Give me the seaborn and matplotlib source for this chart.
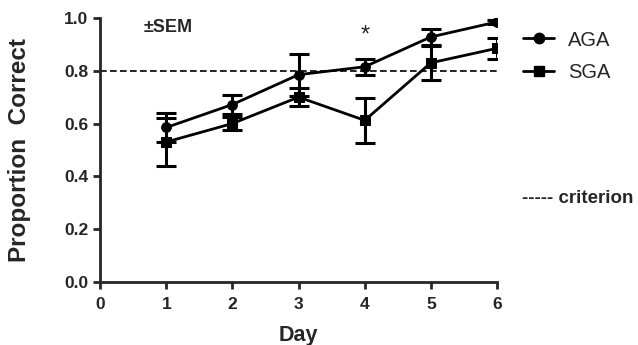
import pandas as pd
import matplotlib
matplotlib.use("Agg")
import matplotlib.pyplot as plt
import seaborn as sns
from matplotlib.lines import Line2D

# Data
days = [1, 2, 3, 4, 5, 6]
aga_mean = [0.585, 0.672, 0.785, 0.815, 0.928, 0.985]
aga_sem = [0.055, 0.035, 0.080, 0.030, 0.030, 0.008]
sga_mean = [0.530, 0.600, 0.700, 0.612, 0.830, 0.885]
sga_sem = [0.092, 0.025, 0.035, 0.085, 0.065, 0.040]
criterion = 0.8

df = pd.DataFrame({
    "Day": days * 2,
    "Proportion": aga_mean + sga_mean,
    "SEM": aga_sem + sga_sem,
    "Group": ["AGA"] * 6 + ["SGA"] * 6,
})

sns.set_style("ticks")
plt.rcParams["font.family"] = ["Liberation Sans", "DejaVu Sans"]

fig = plt.figure(figsize=(6.38, 3.45), dpi=100)
ax = fig.add_axes([0.157, 0.183, 0.622, 0.765])

ax.axhline(criterion, color="black", linestyle=(0, (4, 2)), linewidth=1.2, zorder=1)

sns.lineplot(data=df, x="Day", y="Proportion", hue="Group", style="Group",
             markers={"AGA": "o", "SGA": "s"}, dashes=False,
             palette={"AGA": "black", "SGA": "black"}, markersize=7,
             markeredgecolor="black", linewidth=2, ax=ax, legend=False, zorder=3)

for g, sub in df.groupby("Group"):
    ax.errorbar(sub["Day"], sub["Proportion"], yerr=sub["SEM"], fmt="none",
                ecolor="black", elinewidth=2.2, capsize=7, capthick=2.2, zorder=2)

ax.set_xlim(0, 6)
ax.set_ylim(0, 1.0)
ax.set_xticks(range(0, 7))
ax.set_yticks([0.0, 0.2, 0.4, 0.6, 0.8, 1.0])
ax.set_yticklabels(["0.0", "0.2", "0.4", "0.6", "0.8", "1.0"])
for lbl in ax.get_xticklabels() + ax.get_yticklabels():
    lbl.set_fontweight("bold")
    lbl.set_fontsize(12.5)
ax.tick_params(width=2, length=5, direction="out")
ax.tick_params(axis="x", pad=6)
for s in ["left", "bottom"]:
    ax.spines[s].set_linewidth(2)
sns.despine(ax=ax)

ax.set_xlabel("Day", fontsize=15.5, fontweight="bold", labelpad=9)
ax.set_ylabel("Proportion  Correct", fontsize=17.5, fontweight="bold", labelpad=24)

ax.text(0.65, 0.965, "\u00b1SEM", fontsize=13, fontweight="bold", ha="left", va="center")
ax.text(4, 0.935, "*", fontsize=17, ha="center", va="center")

# legend
handles = [Line2D([], [], color="black", marker="o", markersize=7.5, linewidth=2),
           Line2D([], [], color="black", marker="s", markersize=7.5, linewidth=2)]
fig.legend(handles, ["AGA", "SGA"], loc="upper left", bbox_to_anchor=(0.792, 0.964),
           frameon=False, fontsize=14.5, handlelength=1.5, handletextpad=0.7,
           labelspacing=0.66)
fig.text(0.818, 0.425, "----- criterion", fontsize=13.5, fontweight="bold",
         ha="left", va="center")

fig.savefig("out.png", dpi=100)
